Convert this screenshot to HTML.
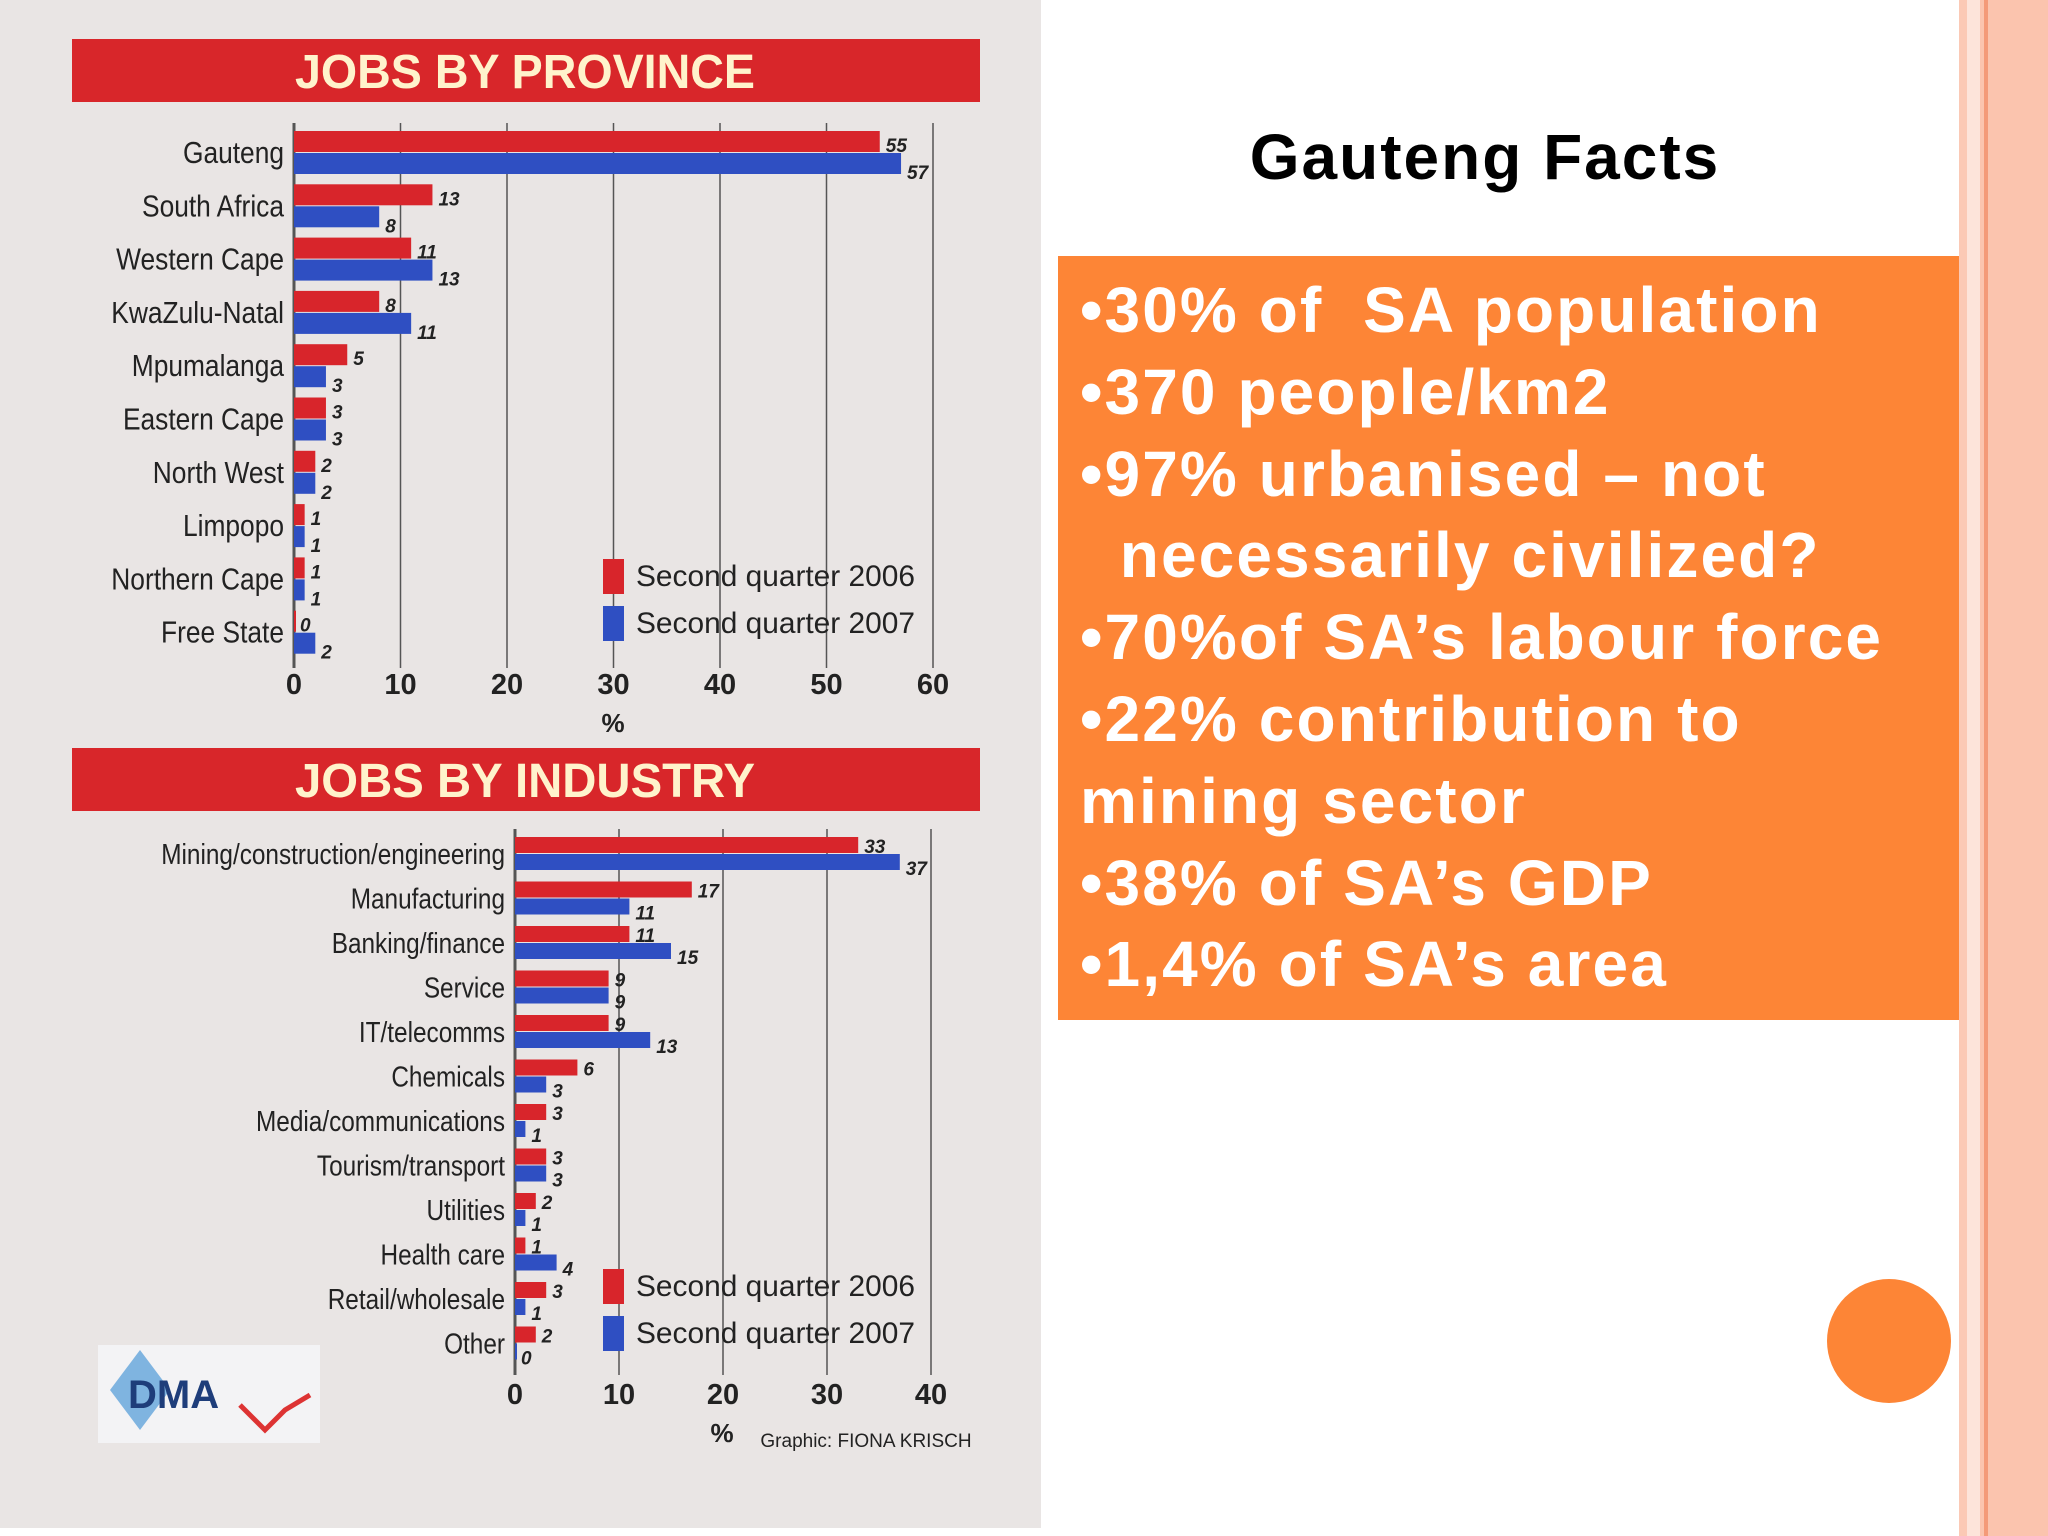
<!DOCTYPE html>
<html><head><meta charset="utf-8"><style>
html,body{margin:0;padding:0;}
body{width:2048px;height:1536px;position:relative;background:#fff;overflow:hidden;font-family:"Liberation Sans",sans-serif;}
#clip{position:absolute;left:0;top:0;width:1041px;height:1528px;background:#e9e5e4;}
#title{position:absolute;left:1100px;width:770px;top:120px;text-align:center;font-weight:bold;font-size:64px;letter-spacing:2px;color:#000;}
#box{position:absolute;left:1058px;top:256px;width:904px;height:764px;background:#fd8536;color:#fff;font-weight:bold;font-size:64px;letter-spacing:2.1px;line-height:81.8px;box-sizing:border-box;padding:14px 0 0 22px;white-space:pre;}
#dot{position:absolute;left:1827px;top:1279px;width:124px;height:124px;border-radius:50%;background:#fd8536;}
.s{position:absolute;top:0;height:1536px;}
</style></head><body>
<div id="clip">
<svg id="chart" width="1041" height="1528"></svg>
</div>
<div id="title">Gauteng Facts</div>
<div id="box">•30% of  SA population
•370 people/km2
•97% urbanised – not
  necessarily civilized?
•70%of SA’s labour force
•22% contribution to
mining sector
•38% of SA’s GDP
•1,4% of SA’s area</div>
<div id="dot"></div>
<div class="s" style="left:1959px;width:8px;background:#fbc9b5"></div>
<div class="s" style="left:1967px;width:13px;background:#fde4da"></div>
<div class="s" style="left:1980px;width:68px;background:#fbc4ae"></div>
<div class="s" style="left:1984px;width:4px;background:#f49a78"></div>
<script>
const provCats=["Gauteng","South Africa","Western Cape","KwaZulu-Natal","Mpumalanga","Eastern Cape","North West","Limpopo","Northern Cape","Free State"];
const prov2006=[55,13,11,8,5,3,2,1,1,0];
const prov2007=[57,8,13,11,3,3,2,1,1,2];
const provTicks=[0,10,20,30,40,50,60];
const indCats=["Mining/construction/engineering","Manufacturing","Banking/finance","Service","IT/telecomms","Chemicals","Media/communications","Tourism/transport","Utilities","Health care","Retail/wholesale","Other"];
const ind2006=[33,17,11,9,9,6,3,3,2,1,3,2];
const ind2007=[37,11,15,9,13,3,1,3,1,4,1,0];
const indTicks=[0,10,20,30,40];
const legendLabels=["Second quarter 2006","Second quarter 2007"];

const svg=document.getElementById('chart');
const NS="http://www.w3.org/2000/svg";
function mk(tag,attrs,text){const e=document.createElementNS(NS,tag);for(const k in attrs)e.setAttribute(k,attrs[k]);if(text!==undefined)e.textContent=text;svg.appendChild(e);return e;}
const RED="#d8252b",BLUE="#2f4fc2";
function chart(o){
  const x=v=>o.x0+v*o.unit;
  let b=mk('rect',{x:72,y:o.bannerY,width:908,height:63,fill:"#d8262a"});
  
  
  let t=mk('text',{x:295,y:o.bannerY+49,'font-size':48,'font-weight':'bold',fill:'#fff3cc',textLength:o.titleLen,lengthAdjust:'spacingAndGlyphs'},o.title);
  
  
  const gTop=o.barTop-8, gBot=o.barTop+o.cats.length*o.step+4;
  o.ticks.forEach(v=>{
    let l=mk('line',{x1:x(v),x2:x(v),y1:gTop,y2:gBot,stroke:'#555','stroke-width':v===0?3:1.5});
    
    
    let tl=mk('text',{x:x(v),y:o.tickY,'text-anchor':'middle','font-size':29,'font-weight':'bold',fill:'#222'},v);
    
    
  });
  let pc=mk('text',{x:o.pctX,y:o.tickY+38,'text-anchor':'middle','font-size':26,fill:'#222','font-weight':'bold'},'%');
  
  
  o.cats.forEach((c,i)=>{
    const y=o.barTop+i*o.step;
    let lb=mk('text',{x:0,y:0,transform:'translate('+(o.x0-10)+','+(y+o.bh+10)+') scale('+o.sx+',1)','text-anchor':'end','font-size':o.fs,fill:'#222'},c);
    
    
    [[o.a,RED],[o.b,BLUE]].forEach(([arr,col],k)=>{
      const v=arr[i],yy=y+k*o.bh;
      let r=mk('rect',{x:x(0),y:yy,width:Math.max(v*o.unit,2),height:o.bh-1,fill:col});
      
      
      let vl=mk('text',{x:x(v)+6,y:yy+o.bh+(k?4:-1),'font-size':19,'font-style':'italic','font-weight':'bold',fill:'#222'},v);
      
      
    });
  });
  legendLabels.forEach((s,k)=>{
    const y=o.legY+k*47;
    let r=mk('rect',{x:603,y:y,width:21,height:35,fill:k?BLUE:RED});
    
    
    let lt=mk('text',{x:636,y:y+27,'font-size':30,fill:'#222',textLength:279,lengthAdjust:'spacingAndGlyphs'},s);
    
    
  });
}
chart({name:'province',title:'JOBS BY PROVINCE',titleLen:460,bannerY:39,cats:provCats,a:prov2006,b:prov2007,ticks:provTicks,x0:294,unit:10.65,barTop:131,step:53.3,bh:22,fs:31,sx:0.85,tickY:694,pctX:613,legY:559});
chart({name:'industry',title:'JOBS BY INDUSTRY',titleLen:460,bannerY:748,cats:indCats,a:ind2006,b:ind2007,ticks:indTicks,x0:515,unit:10.4,barTop:837,step:44.5,bh:17,fs:29,sx:0.84,tickY:1404,pctX:722,legY:1269});
let g=mk('text',{x:866,y:1447,'text-anchor':'middle','font-size':19,fill:'#222'},'Graphic: FIONA KRISCH');


let lg=mk('rect',{x:98,y:1345,width:222,height:98,fill:'#f3f3f5'});


mk('polygon',{points:'110,1390 140,1350 170,1390 140,1430',fill:'#7fb4e0'});
let lt=mk('text',{x:128,y:1408,'font-size':40,'font-weight':'bold',fill:'#1e3d7a'},'DMA');


mk('polyline',{points:'240,1405 265,1430 285,1410 310,1395',fill:'none',stroke:'#d33','stroke-width':5});
</script>
</body></html>
